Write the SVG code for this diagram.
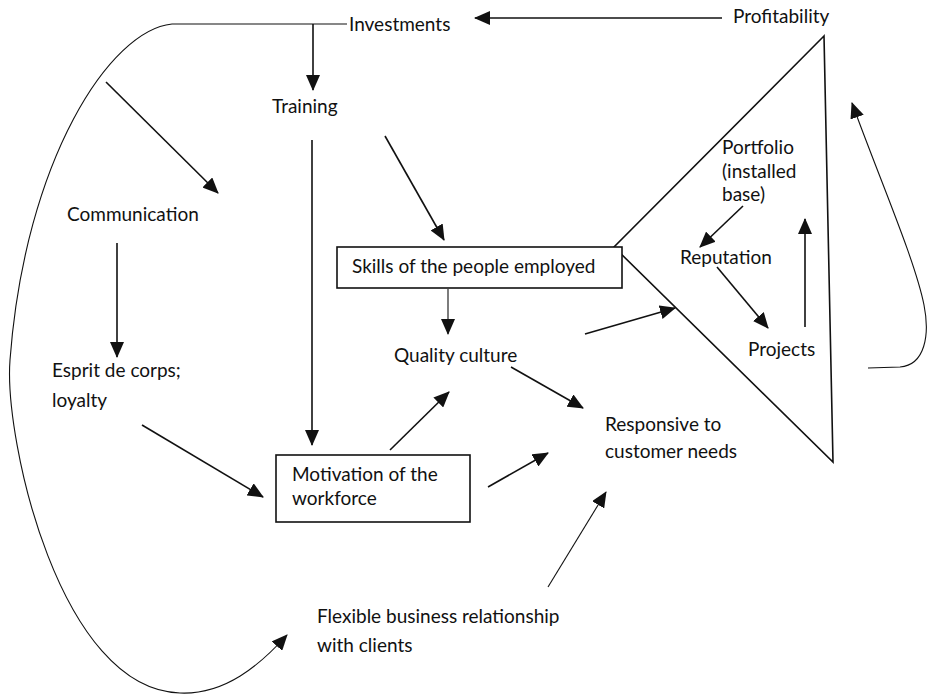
<svg xmlns="http://www.w3.org/2000/svg" width="928" height="694" viewBox="0 0 928 694">
<style>
text{font-family:Lato,"Liberation Sans",sans-serif;font-size:19px;fill:#111}
.c{fill:none;stroke:#111;stroke-width:1.6}
.t{fill:none;stroke:#111;stroke-width:1.1}
.box{fill:#fff;stroke:#111;stroke-width:1.6}
</style>
<defs>
<marker id="ah" markerUnits="userSpaceOnUse" markerWidth="16" markerHeight="14" viewBox="0 0 16 14" refX="15" refY="7" orient="auto">
<path d="M0,0 L16,7 L0,14 z" fill="#111"/>
</marker>
</defs>
<g id="connectors">
<path class="t" d="M 347 24 L 172 24 C 110 30 25 160 10 360 C 4 440 60 690 180 693 C 225 695 260 665 287 635" marker-end="url(#ah)"/>
<path class="c" d="M 313 24 L 313 90" marker-end="url(#ah)"/>
<path class="c" d="M 722 18 L 475 18" marker-end="url(#ah)"/>
<path class="c" d="M 106 82 L 218 193" marker-end="url(#ah)"/>
<path class="c" d="M 117 243 L 117 357" marker-end="url(#ah)"/>
<path class="c" d="M 142 425 L 263 497" marker-end="url(#ah)"/>
<path class="c" d="M 312 140 L 312 445" marker-end="url(#ah)"/>
<path class="c" d="M 385 136 L 444 240" marker-end="url(#ah)"/>
<path class="t" d="M 448 289 L 448 334" marker-end="url(#ah)"/>
<path class="c" d="M 511 367 L 583 408" marker-end="url(#ah)"/>
<path class="c" d="M 390 450 L 449 392" marker-end="url(#ah)"/>
<path class="c" d="M 488 487 L 548 453" marker-end="url(#ah)"/>
<path class="c" d="M 585 334 L 675 308" marker-end="url(#ah)"/>
<path class="t" d="M 548 587 L 606 492" marker-end="url(#ah)"/>
<path class="c" d="M 743 206 L 700 247" marker-end="url(#ah)"/>
<path class="c" d="M 717 267 L 768 328" marker-end="url(#ah)"/>
<path class="c" d="M 805 327 L 805 219" marker-end="url(#ah)"/>
<path class="t" d="M 868 368 L 900 367 C 925 365 930 335 924 305 C 915 260 880 180 852 103" marker-end="url(#ah)"/>
</g>
<g id="triangle">
<polygon points="824,36 614,247 833,462" fill="none" stroke="#111" stroke-width="1.6"/>
</g>
<g id="investments"><text x="349" y="31">Investments</text></g>
<g id="profitability"><text x="733" y="23">Profitability</text></g>
<g id="training"><text x="272" y="113">Training</text></g>
<g id="communication"><text x="67" y="221">Communication</text></g>
<g id="esprit"><text x="52" y="377">Esprit de corps;</text><text x="52" y="407">loyalty</text></g>
<g id="skills"><rect class="box" x="337" y="247" width="285" height="41"/><text x="352" y="273">Skills of the people employed</text></g>
<g id="quality"><text x="394" y="362">Quality culture</text></g>
<g id="motivation"><rect class="box" x="276" y="455" width="194" height="67"/><text x="292" y="481">Motivation of the</text><text x="292" y="505">workforce</text></g>
<g id="responsive"><text x="605" y="431">Responsive to</text><text x="605" y="458">customer needs</text></g>
<g id="flexible"><text x="317" y="623">Flexible business relationship</text><text x="317" y="652">with clients</text></g>
<g id="portfolio"><text x="722" y="154">Portfolio</text><text x="722" y="178">(installed</text><text x="722" y="201">base)</text></g>
<g id="reputation"><text x="680" y="264">Reputation</text></g>
<g id="projects"><text x="748" y="356">Projects</text></g>
</svg>
